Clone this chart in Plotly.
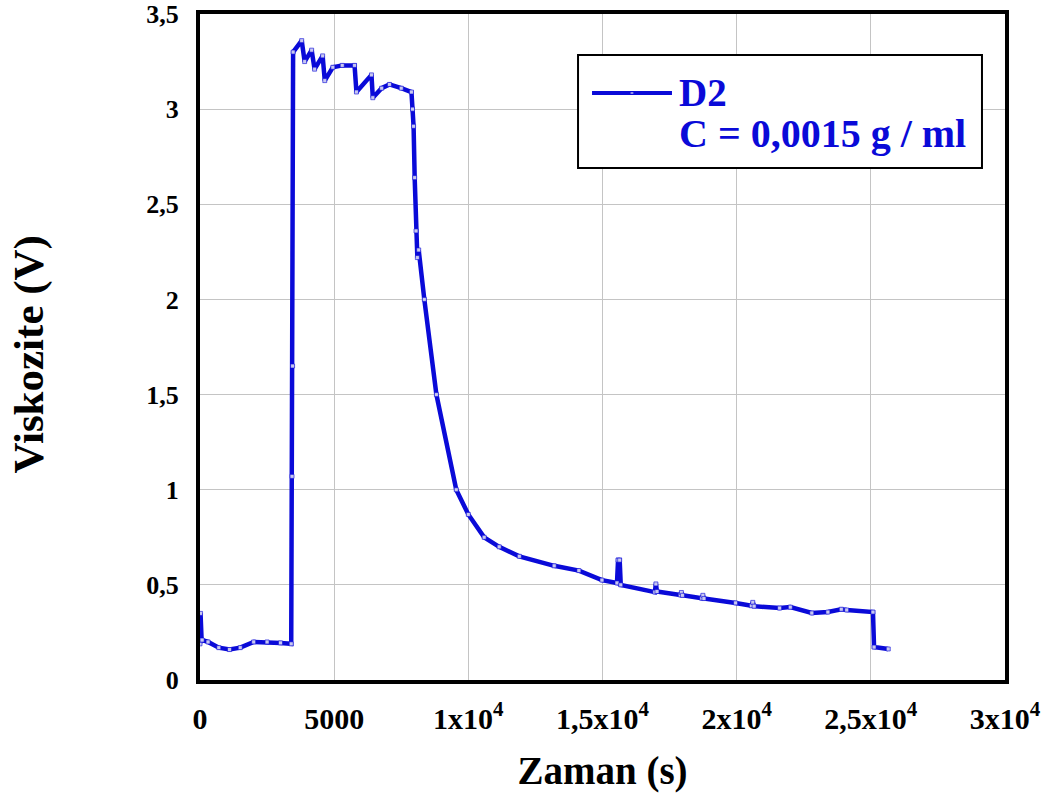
import plotly.graph_objects as go

# Data
time_s = [0, 20, 60, 80, 300, 700, 1100, 1500, 2000, 2500, 3000, 3400, 3430, 3450, 3470,
          3790, 3900, 4160, 4270, 4570, 4650, 4950, 5300, 5760, 5830, 6390, 6440, 6770,
          7060, 7500, 7880, 7920, 7960, 8000, 8050, 8100, 8150, 8360, 8810, 9550, 10000,
          10590, 11150, 11900, 13200, 14120, 14980, 15540, 15580, 15640, 15680, 16950,
          16990, 17030, 17900, 17940, 17980, 18700, 18740, 18780, 19960, 20550, 20600,
          20650, 21600, 22000, 22800, 23400, 23900, 24100, 25080, 25120, 25650]
viscosity_v = [0.19, 0.35, 0.21, 0.21, 0.20, 0.17, 0.16, 0.17, 0.20, 0.20, 0.195, 0.19,
               1.07, 1.65, 3.30, 3.36, 3.25, 3.31, 3.21, 3.28, 3.15, 3.22, 3.23, 3.23,
               3.09, 3.18, 3.06, 3.11, 3.13, 3.11, 3.09, 3.00, 2.91, 2.64, 2.36, 2.22,
               2.26, 2.00, 1.50, 1.00, 0.87, 0.75, 0.70, 0.65, 0.60, 0.575, 0.525, 0.51,
               0.63, 0.63, 0.50, 0.462, 0.505, 0.465, 0.447, 0.46, 0.445, 0.43, 0.445,
               0.428, 0.405, 0.39, 0.408, 0.388, 0.378, 0.383, 0.352, 0.357, 0.372,
               0.368, 0.357, 0.173, 0.163]

x_tickvals = [0, 5000, 10000, 15000, 20000, 25000, 30000]
x_ticktext = ["0", "5000", "1x10<sup>4</sup>", "1,5x10<sup>4</sup>", "2x10<sup>4</sup>",
              "2,5x10<sup>4</sup>", "3x10<sup>4</sup>"]
y_tickvals = [0, 0.5, 1, 1.5, 2, 2.5, 3, 3.5]
y_ticktext = ["0", "0,5", "1", "1,5", "2", "2,5", "3", "3,5"]

series_name = "D2"
concentration = "C = 0,0015 g / ml"
x_title = "Zaman (s)"
y_title = "Viskozite (V)"

BLUE = "#0a0ad8"
MARK_FILL = "#c8c8f0"
FONT = "Liberation Serif"

fig = go.Figure()
fig.add_trace(go.Scatter(
    x=time_s, y=viscosity_v, mode="lines+markers",
    name=series_name, showlegend=False,
    line=dict(color=BLUE, width=4.5),
    marker=dict(symbol="square", size=4, color=MARK_FILL,
                line=dict(color=BLUE, width=0.6)),
))

# Hand-drawn legend box (matches the reference's long line sample)
fig.add_shape(type="rect", xref="x domain", yref="y domain",
              x0=0.4696, x1=0.9714, y0=0.7688, y1=0.9384,
              line=dict(color="black", width=2), fillcolor="white", layer="above")
fig.add_shape(type="line", xref="x domain", yref="y domain",
              x0=0.487, x1=0.5863, y0=0.8814, y1=0.8814,
              line=dict(color=BLUE, width=4), layer="above")
fig.add_shape(type="rect", xref="x domain", yref="y domain",
              x0=0.5345, x1=0.5387, y0=0.8799, y1=0.8829,
              line=dict(color=BLUE, width=0.6), fillcolor=MARK_FILL, layer="above")
fig.add_annotation(xref="x domain", yref="y domain", x=0.593, y=0.8814,
                   xanchor="left", yanchor="middle", showarrow=False, text=series_name,
                   font=dict(family=FONT, size=39, color=BLUE, weight="bold"))
fig.add_annotation(xref="x domain", yref="y domain", x=0.593, y=0.8213,
                   xanchor="left", yanchor="middle", showarrow=False, text=concentration,
                   font=dict(family=FONT, size=40, color=BLUE, weight="bold"))

# Y axis title placed as in the reference (slightly below the plot centre)
fig.add_annotation(xref="x domain", yref="y domain", x=-0.213, y=0.488,
                   xanchor="center", yanchor="middle", showarrow=False, text=y_title,
                   textangle=-90,
                   font=dict(family=FONT, size=43, color="black", weight="bold"))

fig.update_layout(
    width=1053, height=801,
    margin=dict(l=200, r=48, t=14, b=121, autoexpand=False),
    paper_bgcolor="white", plot_bgcolor="white",
    font=dict(family=FONT, color="black"),
    showlegend=False,
)
fig.update_xaxes(
    range=[0, 30000], tickvals=x_tickvals, ticktext=x_ticktext,
    showgrid=True, gridcolor="#c4c4c4", gridwidth=1,
    showline=True, linecolor="black", linewidth=4, mirror=True,
    ticks="", zeroline=False, automargin=False, ticklabelstandoff=9,
    ticklabeloverflow="allow",
    tickfont=dict(family=FONT, size=30, weight="bold", color="black"),
    title=dict(text=x_title, font=dict(family=FONT, size=39, weight="bold", color="black"),
               standoff=24),
)
fig.update_yaxes(
    range=[0, 3.5], tickvals=y_tickvals, ticktext=y_ticktext,
    showgrid=True, gridcolor="#c4c4c4", gridwidth=1,
    showline=True, linecolor="black", linewidth=4, mirror=True,
    ticks="", zeroline=False, automargin=False, ticklabelstandoff=12,
    ticklabeloverflow="allow",
    tickfont=dict(family=FONT, size=26, weight="bold", color="black"),
)

# Remove the browser's default 8px body margin so the figure fills the window
fig.write_html("out.html", config={"displayModeBar": False},
               post_script="document.body.style.margin='0px';")
